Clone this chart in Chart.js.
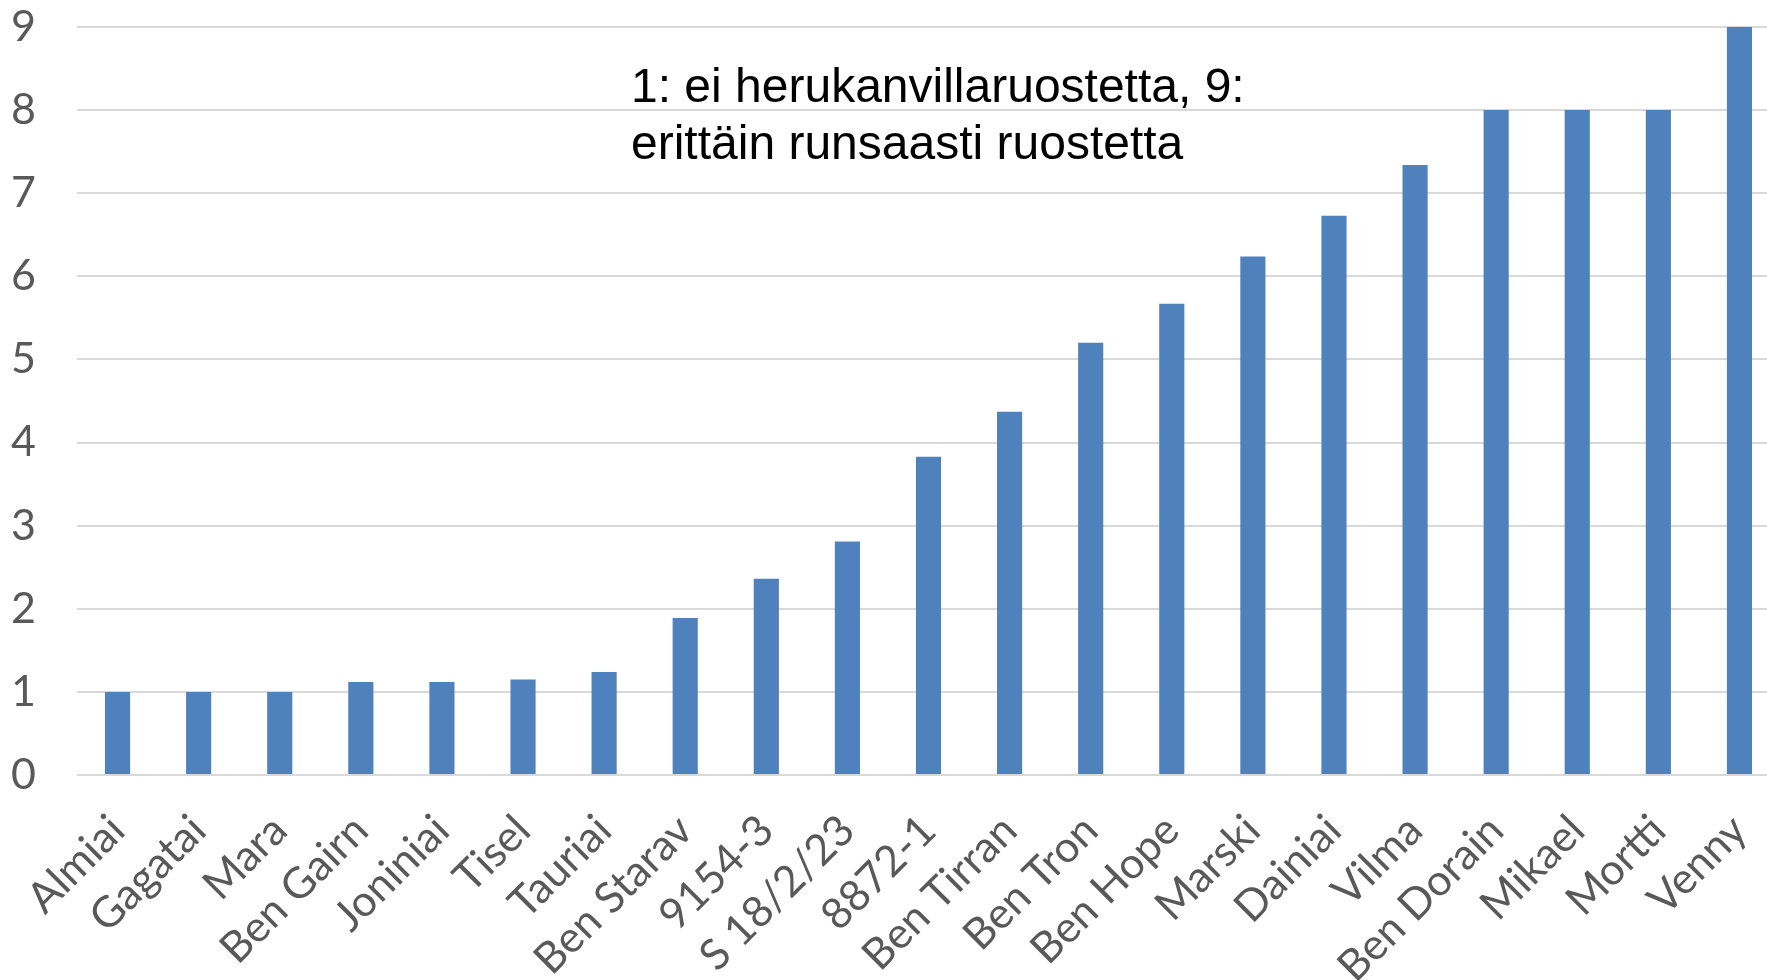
<!DOCTYPE html>
<html>
<head>
<meta charset="utf-8">
<script src="https://cdn.jsdelivr.net/npm/chart.js@4/dist/chart.umd.min.js"></script>
<style>
  html, body { margin: 0; padding: 0; background: #fff; overflow: hidden; }
  #wrap { position: relative; width: 1780px; height: 980px; }
</style>
</head>
<body>
<div id="wrap"><canvas id="c"></canvas></div>
<script>
// herukanvillaruoste-arvosana lajikkeittain (1 = ei ruostetta, 9 = erittäin runsaasti)
const varieties = [
  'Almiai', 'Gagatai', 'Mara', 'Ben Gairn', 'Joniniai', 'Tisel', 'Tauriai',
  'Ben Starav', '9154-3', 'S 18/2/23', '8872-1', 'Ben Tirran', 'Ben Tron',
  'Ben Hope', 'Marski', 'Dainiai', 'Vilma', 'Ben Dorain', 'Mikael', 'Mortti', 'Venny'
];
const rustScore = [
  1.0, 1.0, 1.0, 1.12, 1.12, 1.15, 1.24,
  1.89, 2.36, 2.81, 3.83, 4.37, 5.2,
  5.67, 6.24, 6.73, 7.34, 8.0, 8.0, 8.0, 9.0
];
const yTicks = [0, 1, 2, 3, 4, 5, 6, 7, 8, 9];
const noteLines = ['1: ei herukanvillaruostetta, 9:', 'erittäin runsaasti ruostetta'];

const BAR = '#4F81BD', GRID = '#D9D9D9', TXT = '#595959';
const LABEL_FONT = { family: 'Lato, "Open Sans", sans-serif', size: 43 };

const notePlugin = {
  id: 'note',
  afterDraw(chart) {
    const ctx = chart.ctx;
    ctx.save();
    ctx.fillStyle = '#000';
    ctx.font = '48px "Liberation Sans", Arial, sans-serif';
    ctx.textBaseline = 'alphabetic';
    ctx.textAlign = 'left';
    noteLines.forEach((t, i) => ctx.fillText(t, 631, 102 + i * 57));
    ctx.restore();
  }
};

new Chart(document.getElementById('c'), {
  type: 'bar',
  data: {
    labels: varieties,
    datasets: [{
      data: rustScore,
      backgroundColor: BAR,
      borderWidth: 0,
      categoryPercentage: 1,
      barPercentage: 0.31,
    }],
  },
  options: {
    responsive: true,
    maintainAspectRatio: false,
    animation: false,
    layout: { padding: { top: 27, left: 0, right: 0, bottom: 0 } },
    plugins: { legend: { display: false }, tooltip: { enabled: false } },
    scales: {
      x: {
        grid: { display: false, drawTicks: false },
        border: { display: false },
        ticks: {
          color: TXT, font: LABEL_FONT,
          minRotation: 45, maxRotation: 45, autoSkip: false, padding: 30,
        },
        afterFit(s) {
          s.height = 205;
          s.paddingLeft = 0;
          s.paddingRight = 0;
        },
      },
      y: {
        min: 0, max: 9,
        afterBuildTicks(s) { s.ticks = yTicks.map(v => ({ value: v })); },
        grid: { color: GRID, lineWidth: 2, drawTicks: false },
        border: { display: false },
        ticks: { color: TXT, font: LABEL_FONT, padding: 41 },
        afterFit(s) {
          s.width = 77;
          s.paddingTop = 0;
          s.paddingBottom = 0;
        },
      },
    },
  },
  plugins: [notePlugin],
});
</script>
</body>
</html>
